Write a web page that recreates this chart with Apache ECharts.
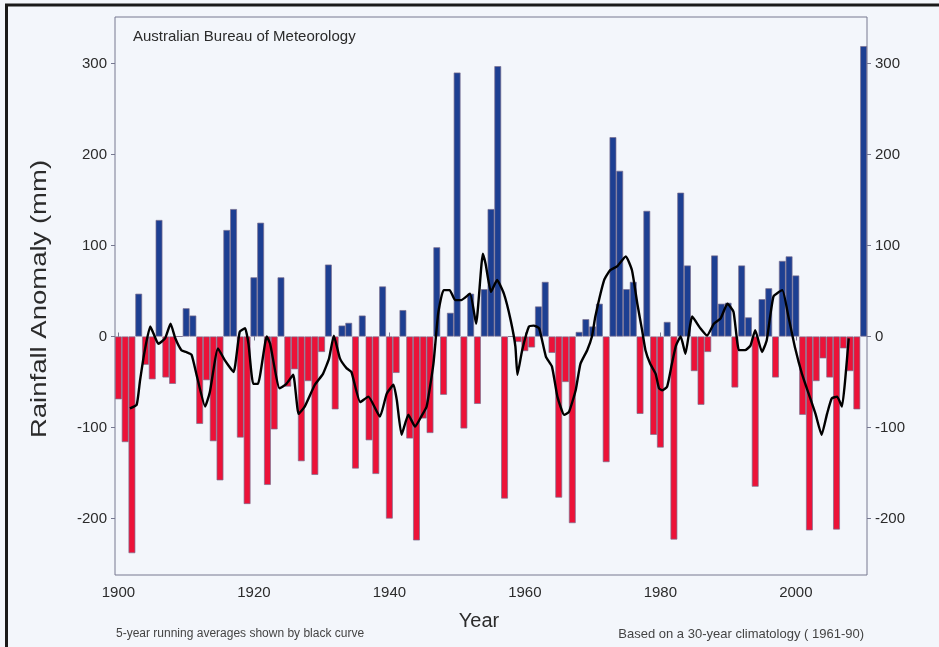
<!DOCTYPE html>
<html>
<head>
<meta charset="utf-8">
<title>Australian rainfall anomaly</title>
<script src="https://cdn.jsdelivr.net/npm/echarts@6/dist/echarts.min.js"></script>
<style>
  html, body { margin: 0; padding: 0; background: #f3f6fb; }
  #chart { width: 939px; height: 647px; }
</style>
</head>
<body>
<div id="chart"></div>
<script>
// Annual rainfall anomaly (mm), 1900-2010
const years = [];
for (let y = 1900; y <= 2010; y++) years.push(String(y));

const anomaly = [
  -69, -116, -238, 47, -31, -47, 128, -45, -52, 0,      // 1900-1909
  31, 23, -96, -48, -115, -158, 117, 140, -111, -184,    // 1910-1919
  65, 125, -163, -102, 65, -55, -36, -137, -49, -152,    // 1920-1929
  -17, 79, -80, 12, 15, -145, 23, -114, -151, 55,        // 1930-1939
  -200, -40, 29, -112, -224, -90, -106, 98, -64, 26,     // 1940-1949
  290, -101, 47, -74, 52, 140, 297, -178, 0, -6,         // 1950-1959
  -16, -12, 33, 60, -18, -177, -50, -205, 5, 19,         // 1960-1969
  11, 36, -138, 219, 182, 52, 60, -85, 138, -108,        // 1970-1979
  -122, 16, -223, 158, 78, -38, -75, -17, 89, 36,        // 1980-1989
  37, -56, 78, 21, -165, 41, 53, -45, 83, 88,            // 1990-1999
  67, -86, -213, -49, -24, -45, -212, -13, -38, -80,     // 2000-2009
  319                                                    // 2010
];

// 5-year running average curve (decimal year, mm)
const avgYears = [
  1901.7, 1902.7, 1903.2, 1903.9, 1904.7, 1905.2, 1905.9, 1906.9, 1907.7, 1908.4,
  1909.3, 1910.0, 1910.8, 1911.6, 1912.8, 1913.5, 1914.7, 1915.7, 1917.0, 1917.9,
  1918.7, 1919.2, 1919.9, 1920.6, 1921.9, 1922.4, 1923.8, 1924.8, 1925.8, 1926.6,
  1927.5, 1929.0, 1930.2, 1931.1, 1931.8, 1932.7, 1933.7, 1934.4, 1935.7, 1936.9,
  1938.6, 1939.6, 1940.6, 1941.1, 1941.8, 1942.8, 1943.8, 1944.7, 1945.5, 1946.5,
  1947.2, 1948.0, 1948.9, 1949.7, 1950.6, 1951.9, 1952.8, 1953.8, 1954.2, 1955.0,
  1955.9, 1956.9, 1957.9, 1958.6, 1958.9, 1959.6, 1960.6, 1961.3, 1962.1, 1963.1,
  1964.0, 1964.8, 1965.8, 1966.5, 1967.5, 1968.2, 1969.2, 1969.9, 1970.4, 1971.7,
  1972.6, 1973.6, 1974.9, 1975.8, 1976.6, 1977.3, 1977.8, 1978.5, 1979.3, 1979.8,
  1980.3, 1981.0, 1981.7, 1982.3, 1983.0, 1983.7, 1984.7, 1985.9, 1986.9, 1987.9,
  1988.9, 1989.9, 1990.8, 1991.6, 1992.5, 1993.3, 1994.0, 1995.0, 1995.7, 1996.7,
  1998.0, 1998.9, 1999.9, 2000.9, 2001.9, 2002.9, 2003.8, 2004.6, 2005.3, 2006.1,
  2006.8, 2007.3, 2007.8
];
const avgValues = [
  -79, -75, -48, -15, 11, 3, -8, -2, 14, -2,
  -15, -17, -20, -44, -77, -61, -13, -26, -39, 5,
  9, -8, -52, -52, 0, -8, -57, -52, -42, -85,
  -77, -53, -41, -24, 1, -24, -35, -39, -72, -66,
  -88, -63, -53, -70, -108, -86, -99, -88, -77, -30,
  25, 51, 51, 40, 40, 47, 14, 91, 80, 49,
  62, 47, 18, -11, -42, -15, 11, 12, 9, -22,
  -33, -66, -86, -83, -59, -30, -15, 0, 22, 62,
  73, 77, 88, 73, 36, 7, -15, -30, -41, -57,
  -59, -55, -30, -10, 0, -19, 22, 9, 1, 14,
  20, 36, 27, -15, -15, -10, 7, -17, -4, 44,
  51, 22, -13, -41, -63, -85, -108, -85, -68, -66,
  -77, -46, -2
];

const yTicks = [-200, -100, 0, 100, 200, 300];

const avgPairs = avgYears.map((y, i) => [y, avgValues[i]]);

const textColor = '#2b2b2b';
const frameColor = '#767890';
const sansFont = "'Liberation Sans', Arial, sans-serif";
const everyTwenty = (idx, val) => Number(val) % 20 === 0;

const chart = echarts.init(document.getElementById('chart'), null, { renderer: 'canvas' });

chart.setOption({
  backgroundColor: '#f3f6fb',
  animation: false,
  grid: {
    left: 115, right: 72, top: 17, bottom: 72,
    show: true, borderColor: frameColor, borderWidth: 1,
    backgroundColor: 'transparent'
  },
  xAxis: [
    {
      type: 'category', position: 'bottom', data: years, boundaryGap: true,
      axisLine: { show: false },
      axisTick: { show: true, inside: false, length: 4, alignWithLabel: true,
                  interval: everyTwenty, lineStyle: { color: frameColor } },
      axisLabel: { interval: everyTwenty, margin: 10, color: textColor,
                   fontSize: 15, fontFamily: sansFont },
      splitLine: { show: false }
    },
    {
      type: 'category', position: 'top', data: years, boundaryGap: true,
      axisLine: { show: false },
      axisTick: { show: true, inside: false, length: 4, alignWithLabel: true,
                  interval: everyTwenty, lineStyle: { color: frameColor } },
      axisLabel: { show: false },
      splitLine: { show: false }
    },
    {
      type: 'value', min: 1899.5, max: 2010.5, show: false,
      splitLine: { show: false }
    }
  ],
  yAxis: [
    {
      type: 'value', position: 'left', min: -262, max: 351,
      axisLine: { show: false },
      axisTick: { show: true, length: 4, customValues: yTicks, lineStyle: { color: frameColor } },
      axisLabel: { customValues: yTicks, margin: 8, color: textColor,
                   fontSize: 15, fontFamily: sansFont },
      splitLine: { show: false }
    },
    {
      type: 'value', position: 'right', min: -262, max: 351,
      axisLine: { show: false },
      axisTick: { show: true, length: 4, customValues: yTicks, lineStyle: { color: frameColor } },
      axisLabel: { customValues: yTicks, margin: 8, color: textColor,
                   fontSize: 15, fontFamily: sansFont },
      splitLine: { show: false }
    }
  ],
  series: [
    {
      type: 'bar', name: 'Rainfall anomaly', xAxisIndex: 0, yAxisIndex: 0,
      data: anomaly,
      barWidth: '100%', barCategoryGap: '0%',
      itemStyle: {
        color: p => (p.value >= 0 ? '#1d3f92' : '#ec1238'),
        borderColor: '#7a6f8e', borderWidth: 0.7
      }
    },
    {
      type: 'line', name: '5-year running average', xAxisIndex: 2, yAxisIndex: 0,
      data: avgPairs, showSymbol: false, smooth: 0.15,
      lineStyle: { color: '#000', width: 2.4 }, z: 5
    }
  ],
  graphic: [
    // page frame
    { type: 'line', shape: { x1: 6.5, y1: 4, x2: 6.5, y2: 647 }, style: { stroke: '#1a1a1a', lineWidth: 3 } },
    { type: 'line', shape: { x1: 5, y1: 5, x2: 939, y2: 5 }, style: { stroke: '#1a1a1a', lineWidth: 3 } },
    { type: 'text', left: 133, top: 29,
      style: { text: 'Australian Bureau of Meteorology', fill: textColor,
               font: '15px ' + sansFont } },
    { type: 'text', x: 40, y: 299, rotation: Math.PI / 2, scaleX: 1.25,
      style: { text: 'Rainfall Anomaly (mm)', fill: textColor, align: 'center',
               verticalAlign: 'middle', font: '22px ' + sansFont } },
    { type: 'text', x: 479, y: 621,
      style: { text: 'Year', fill: textColor, align: 'center', verticalAlign: 'middle',
               font: '20px ' + sansFont } },
    { type: 'text', x: 116, y: 634,
      style: { text: '5-year running averages shown by black curve', fill: '#444',
               verticalAlign: 'middle', font: '12px ' + sansFont } },
    { type: 'text', x: 864, y: 634,
      style: { text: 'Based on a 30-year climatology ( 1961-90)', fill: '#444', align: 'right',
               verticalAlign: 'middle', font: '13px ' + sansFont } }
  ]
});
</script>
</body>
</html>
